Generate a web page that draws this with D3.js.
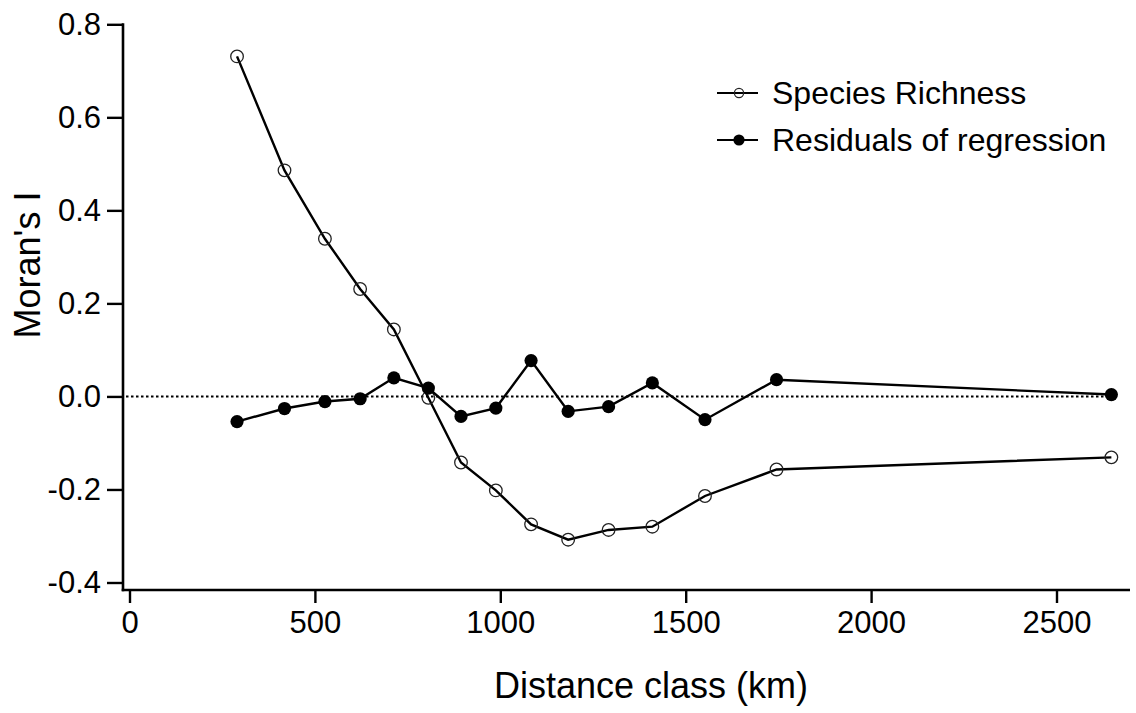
<!DOCTYPE html>
<html>
<head>
<meta charset="utf-8">
<script src="https://cdn.jsdelivr.net/npm/d3@7"></script>
<style>
  html, body { margin: 0; padding: 0; background: #fff; }
  svg { display: block; font-family: "Liberation Sans", Arial, Helvetica, sans-serif; }
</style>
</head>
<body>
<svg id="chart" width="1136" height="713"></svg>
<script>
// Distance classes (km) and Moran's I correlogram values
const distanceClass = [290, 418, 527, 622, 713, 806, 894, 988, 1083, 1183, 1292, 1410, 1552, 1745, 2648];
const speciesRichness = [0.731, 0.486, 0.339, 0.231, 0.144, -0.003, -0.142, -0.202, -0.275, -0.308, -0.287, -0.280, -0.214, -0.157, -0.131];
const residuals = [-0.054, -0.026, -0.011, -0.005, 0.040, 0.018, -0.043, -0.025, 0.077, -0.032, -0.022, 0.029, -0.050, 0.036, 0.004];
const xTicks = [0, 500, 1000, 1500, 2000, 2500];
const yTicks = [-0.4, -0.2, 0.0, 0.2, 0.4, 0.6, 0.8];
const seriesNames = ["Species Richness", "Residuals of regression"];

const svg = d3.select("#chart");
const FONT = "'Liberation Sans', Arial, Helvetica, sans-serif";

const x = d3.scaleLinear().domain([0, 2500]).range([129.5, 1056.5]);
const y = d3.scaleLinear().domain([-0.4, 0.8]).range([582.5, 24.3]);

const axisX = 123;   // position of the vertical axis line
const axisY = 590;   // position of the horizontal axis line

// Axis lines (L-shaped frame)
svg.append("line")
  .attr("x1", axisX).attr("x2", axisX)
  .attr("y1", y(0.8) - 1).attr("y2", axisY + 1.3)
  .attr("stroke", "#000").attr("stroke-width", 2.6);
svg.append("line")
  .attr("x1", axisX - 1.3).attr("x2", 1130)
  .attr("y1", axisY).attr("y2", axisY)
  .attr("stroke", "#000").attr("stroke-width", 2.6);

// Tick labels use a plain hyphen for negatives
const yFmt = d => d3.format(".1f")(d).replace("\u2212", "-");

// Y axis ticks and labels
const gy = svg.append("g")
  .attr("transform", `translate(${axisX},0)`)
  .call(d3.axisLeft(y).tickValues(yTicks).tickSize(16).tickPadding(6).tickFormat(yFmt));
gy.select(".domain").remove();
gy.selectAll(".tick line").attr("stroke", "#000").attr("stroke-width", 2.4);
gy.selectAll(".tick text").attr("font-size", 31).attr("fill", "#000").style("font-family", FONT);

// X axis ticks and labels
const gx = svg.append("g")
  .attr("transform", `translate(0,${axisY})`)
  .call(d3.axisBottom(x).tickValues(xTicks).tickSize(13).tickPadding(8).tickFormat(d3.format("d")));
gx.select(".domain").remove();
gx.selectAll(".tick line").attr("stroke", "#000").attr("stroke-width", 2.4);
gx.selectAll(".tick text").attr("font-size", 31).attr("fill", "#000").style("font-family", FONT);

// Axis titles
svg.append("text")
  .attr("x", 651).attr("y", 698)
  .attr("text-anchor", "middle")
  .attr("font-size", 36)
  .text("Distance class (km)");
svg.append("text")
  .attr("transform", "translate(40,265) rotate(-90)")
  .attr("text-anchor", "middle")
  .attr("font-size", 36)
  .text("Moran's I");

// Zero reference line
svg.append("line")
  .attr("x1", axisX + 3).attr("x2", x(d3.max(distanceClass)))
  .attr("y1", y(0)).attr("y2", y(0))
  .attr("stroke", "#000").attr("stroke-width", 2)
  .attr("stroke-dasharray", "2.5,2.5");

const line = d3.line().x(d => x(d[0])).y(d => y(d[1]));
const srData = distanceClass.map((d, i) => [d, speciesRichness[i]]);
const resData = distanceClass.map((d, i) => [d, residuals[i]]);

// Species richness: line with open (unfilled) circles
svg.append("path").datum(srData)
  .attr("d", line).attr("fill", "none")
  .attr("stroke", "#000").attr("stroke-width", 2.4);
svg.append("g").selectAll("circle").data(srData).join("circle")
  .attr("cx", d => x(d[0])).attr("cy", d => y(d[1])).attr("r", 6.3)
  .attr("fill", "none").attr("stroke", "#222").attr("stroke-width", 1.3);

// Residuals: line with filled circles
svg.append("path").datum(resData)
  .attr("d", line).attr("fill", "none")
  .attr("stroke", "#000").attr("stroke-width", 2.4);
svg.append("g").selectAll("circle").data(resData).join("circle")
  .attr("cx", d => x(d[0])).attr("cy", d => y(d[1])).attr("r", 6.6)
  .attr("fill", "#000");

// Legend
const legend = svg.append("g");
const rows = [93, 140];
seriesNames.forEach((name, i) => {
  const cy = rows[i];
  legend.append("line")
    .attr("x1", 717).attr("x2", 758).attr("y1", cy).attr("y2", cy)
    .attr("stroke", "#000").attr("stroke-width", 2.2);
  if (i === 0) {
    legend.append("circle").attr("cx", 739).attr("cy", cy).attr("r", 4.6)
      .attr("fill", "none").attr("stroke", "#222").attr("stroke-width", 1.2);
  } else {
    legend.append("circle").attr("cx", 739).attr("cy", cy).attr("r", 5.6)
      .attr("fill", "#000");
  }
  legend.append("text")
    .attr("x", 772).attr("y", cy + 11)
    .attr("font-size", 32)
    .text(name);
});
</script>
</body>
</html>
